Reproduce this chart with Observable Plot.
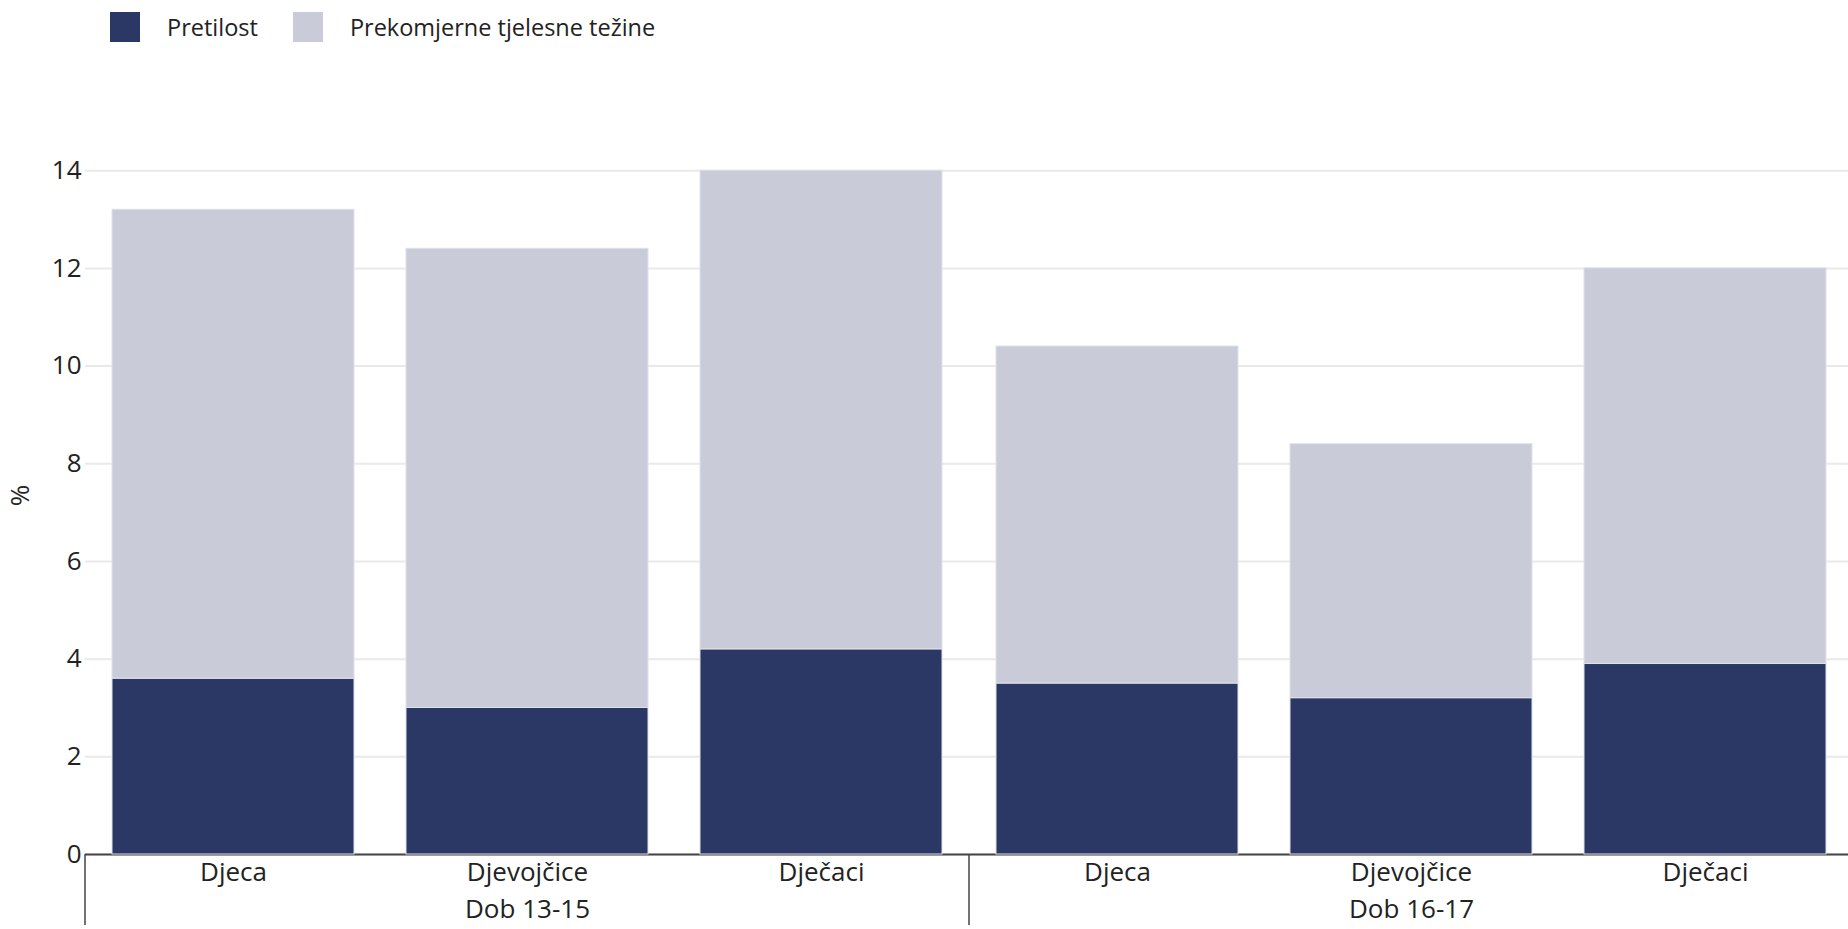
<!DOCTYPE html>
<html>
<head>
<meta charset="utf-8">
<script src="https://cdn.jsdelivr.net/npm/d3@7"></script>
<script src="https://cdn.jsdelivr.net/npm/@observablehq/plot@0.6"></script>
<style>
  html, body { margin: 0; padding: 0; background: #fff; overflow: hidden; }
  body { font-family: "Open Sans", sans-serif; color: #222; }
  .legend { display: flex; align-items: flex-start; height: 60px; padding-left: 110px; padding-top: 12px; box-sizing: border-box; font-size: 23.5px; }
  .legend .item { display: flex; align-items: center; margin-right: 35px; }
  .legend .sw { width: 30px; height: 30px; margin-right: 27px; }
  .legend .item span.t { line-height: 30px; }
  #chart { position: absolute; left: 0; top: 60px; width: 1853px; }
  #chart svg { display: block; max-width: none !important; }
</style>
</head>
<body>
<div class="legend" id="legend"></div>
<div id="chart"></div>
<script>
// Age groups, categories within each group, and the two stacked series (%)
const groups = ["Dob 13-15", "Dob 16-17"];
const categories = ["Djeca", "Djevojčice", "Dječaci"];
const seriesNames = ["Pretilost", "Prekomjerne tjelesne težine"];
const seriesColors = ["#2b3764", "#c9ccd8"];

// values listed group by group, category by category
const pretilost = [3.6, 3.0, 4.2, 3.5, 3.2, 3.9];
const prekomjerne = [9.6, 9.4, 9.8, 6.9, 5.2, 8.1];

const yTicks = [0, 2, 4, 6, 8, 10, 12, 14];

// long table for stacking
const rows = [];
groups.forEach((g, gi) => {
  categories.forEach((c, ci) => {
    const i = gi * categories.length + ci;
    rows.push({group: g, cat: c, series: seriesNames[0], value: pretilost[i]});
    rows.push({group: g, cat: c, series: seriesNames[1], value: prekomjerne[i]});
  });
});

// legend
const legend = document.getElementById("legend");
seriesNames.forEach((name, i) => {
  const item = document.createElement("div");
  item.className = "item";
  const sw = document.createElement("div");
  sw.className = "sw";
  sw.style.background = seriesColors[i];
  const t = document.createElement("span");
  t.className = "t";
  t.textContent = name;
  item.append(sw, t);
  legend.append(item);
});

const W = 1853, H = 869;
const chart = Plot.plot({
  width: W,
  height: H,
  marginLeft: 85,
  marginRight: 0,
  marginTop: 76,
  marginBottom: 75,
  style: {fontFamily: "Open Sans, sans-serif", fontSize: "26px", color: "#222", background: "#fff", maxWidth: "none"},
  fx: {domain: groups, padding: 0},
  x: {domain: categories, paddingInner: 0.177, paddingOuter: 0.088},
  y: {domain: [0, 14.7]},
  color: {domain: seriesNames, range: seriesColors},
  marks: [
    Plot.gridY(yTicks, {stroke: "#e9e9e9", strokeOpacity: 1, strokeWidth: 2}),
    Plot.ruleY([0], {stroke: "#444", strokeWidth: 2}),
    Plot.barY(rows, {fx: "group", x: "cat", y: "value", fill: "series", stroke: "#dfe1e8", strokeWidth: 1}),
    Plot.axisY({ticks: yTicks, tickSize: 0, tickPadding: 4, label: "%", labelAnchor: "center", labelArrow: "none", labelOffset: 75, fontSize: 26}),
    Plot.axisX({anchor: "bottom", tickSize: 0, tickPadding: 8, label: null, fontSize: 26}),
    Plot.axisFx({anchor: "bottom", tickSize: 0, tickPadding: 45, label: null, fontSize: 26})
  ]
});
document.getElementById("chart").append(chart);

// vertical separators below the baseline, at the left edge of each group band
const fx = chart.scale("fx");
const y = chart.scale("y");
const y0 = y.apply(0);
const svg = d3.select(chart.tagName.toLowerCase() === "svg" ? chart : chart.querySelector("svg"));
groups.forEach(g => {
  const xPos = fx.apply(g);
  svg.append("line")
    .attr("x1", xPos).attr("x2", xPos)
    .attr("y1", y0).attr("y2", y0 + 71)
    .attr("stroke", "#444").attr("stroke-width", 1.5);
});
</script>
</body>
</html>
